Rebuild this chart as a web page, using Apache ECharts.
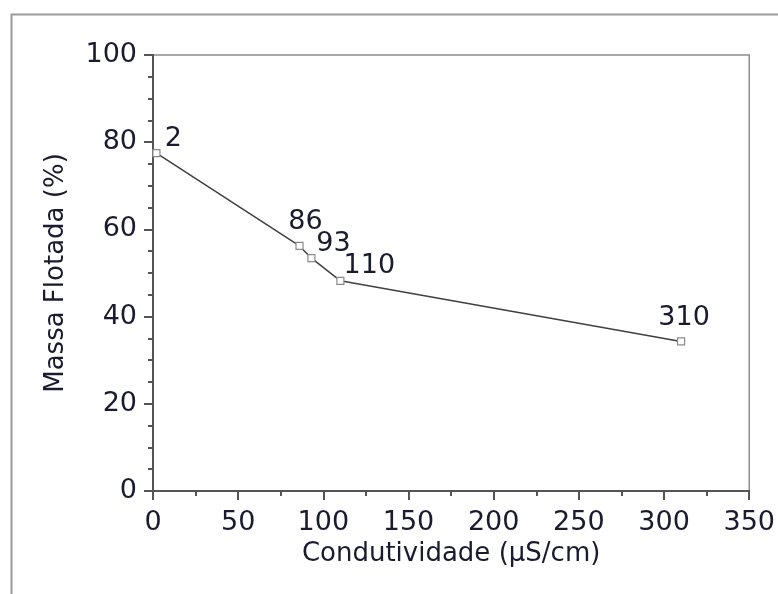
<!DOCTYPE html>
<html>
<head>
<meta charset="utf-8">
<script src="https://cdn.jsdelivr.net/npm/echarts@6/dist/echarts.min.js"></script>
<style>
html,body{margin:0;padding:0;background:#fff;}
#c{width:778px;height:594px;}
</style>
</head>
<body>
<div id="c"></div>
<script>
// Data
const conductivity = [2, 86, 93, 110, 310];          // µS/cm
const massFloated = [77.5, 56.2, 53.4, 48.2, 34.3];   // %
const pointLabels = ['2', '86', '93', '110', '310'];
const labelOffsets = [[17, -14], [6, -24], [22, -14], [29, -15], [3, -23]];

const textColor = '#1a1a30';
const fontFam = '"DejaVu Sans", Verdana, sans-serif';

const chart = echarts.init(document.getElementById('c'), null, {renderer: 'canvas'});

const seriesData = conductivity.map((x, i) => ({
  value: [x, massFloated[i]],
  label: {
    show: true,
    position: 'inside',
    offset: labelOffsets[i],
    formatter: pointLabels[i],
    color: textColor,
    fontSize: 27,
    fontFamily: fontFam
  }
}));

chart.setOption({
  backgroundColor: '#fff',
  animation: false,
  graphic: [{
    type: 'polyline',
    shape: {points: [[11.5, 594], [11.5, 14.5], [778, 14.5]]},
    style: {stroke: '#9a9a9a', lineWidth: 2, fill: null},
    silent: true
  }],
  grid: {
    left: 153, right: 28, top: 55, bottom: 103,
    show: true, borderColor: '#8c8c8c', borderWidth: 1.5, backgroundColor: 'transparent'
  },
  xAxis: {
    type: 'value', min: 0, max: 350, interval: 50,
    name: 'Condutividade (µS/cm)', nameLocation: 'middle', nameGap: 50,
    nameTextStyle: {color: textColor, fontSize: 26, fontFamily: fontFam},
    axisLine: {show: true, onZero: false, lineStyle: {color: '#555', width: 2}},
    axisTick: {show: true, inside: false, length: 9, lineStyle: {color: '#555', width: 2}},
    minorTick: {show: true, splitNumber: 2, length: 5, lineStyle: {color: '#555', width: 2}},
    axisLabel: {color: textColor, fontSize: 27, fontFamily: fontFam, margin: 18},
    splitLine: {show: false}
  },
  yAxis: {
    type: 'value', min: 0, max: 100, interval: 20,
    name: 'Massa Flotada (%)', nameLocation: 'middle', nameGap: 84,
    nameTextStyle: {color: textColor, fontSize: 26, fontFamily: fontFam},
    axisLine: {show: true, onZero: false, lineStyle: {color: '#555', width: 2}},
    axisTick: {show: true, inside: false, length: 9, lineStyle: {color: '#555', width: 2}},
    minorTick: {show: true, splitNumber: 4, length: 5, lineStyle: {color: '#555', width: 2}},
    axisLabel: {color: textColor, fontSize: 27, fontFamily: fontFam, margin: 16},
    splitLine: {show: false}
  },
  series: [{
    type: 'line',
    data: seriesData,
    symbol: 'rect',
    symbolSize: 7,
    showAllSymbol: true,
    lineStyle: {color: '#404040', width: 1.5},
    itemStyle: {color: '#fff', borderColor: '#8a8a8a', borderWidth: 1.2},
    z: 3
  }]
});
</script>
</body>
</html>
